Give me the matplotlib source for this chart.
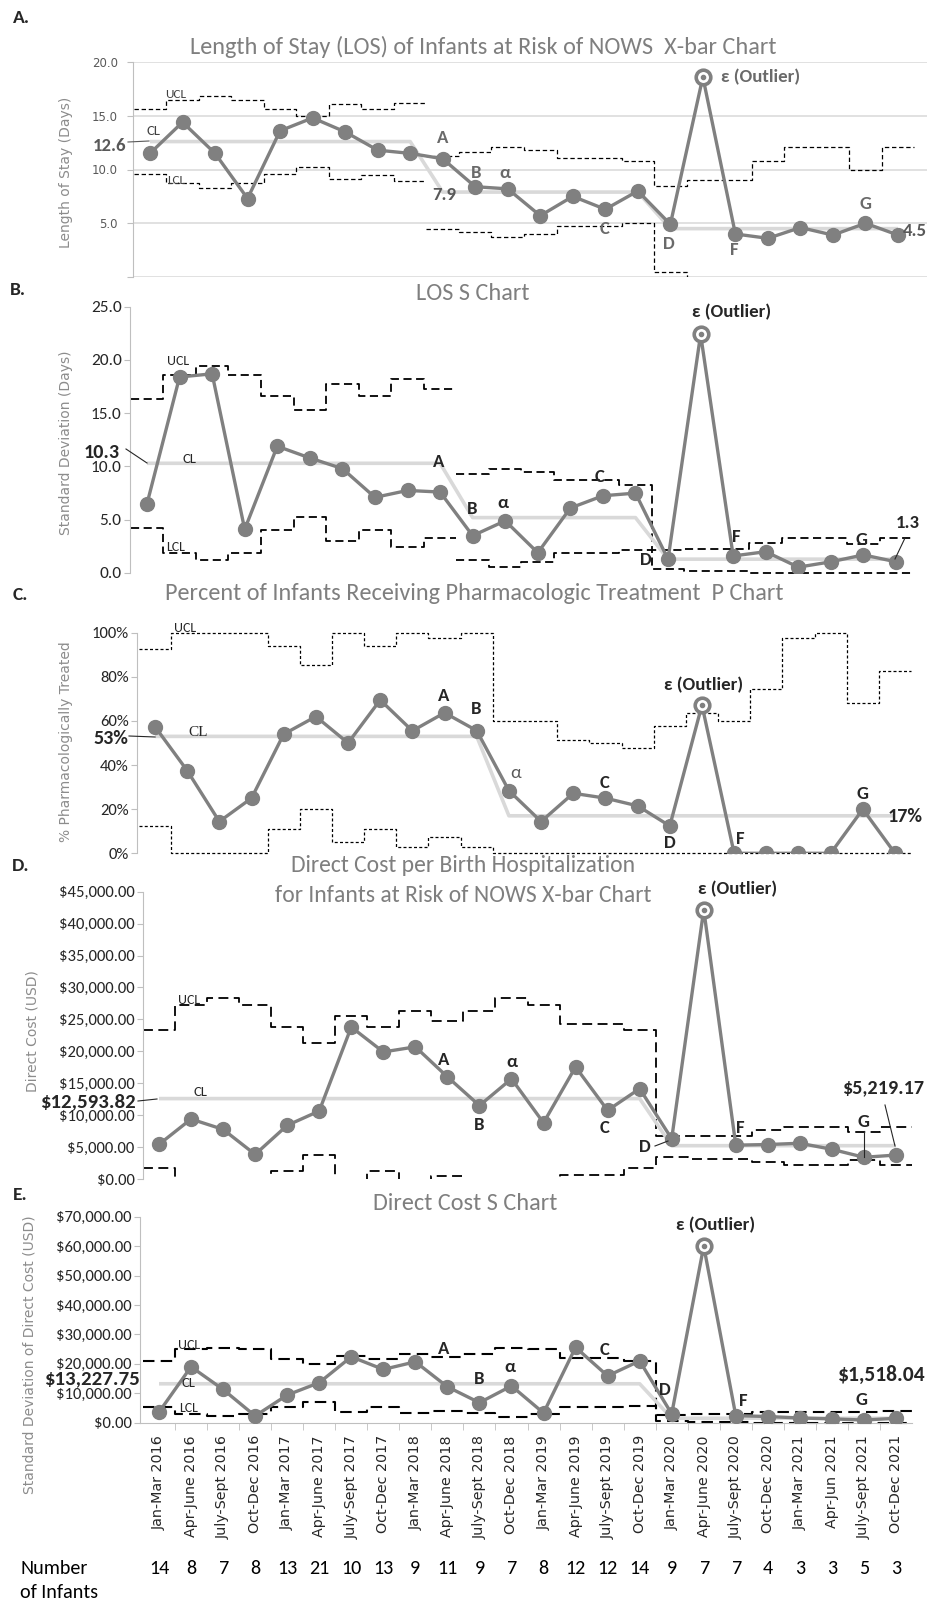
import numpy as np
import matplotlib
matplotlib.use("Agg")
import matplotlib.pyplot as plt
from matplotlib import font_manager as fm
from matplotlib.lines import Line2D
import matplotlib.transforms as mtransforms

# ---------------- data ----------------
periods = ["Jan-Mar 2016", "Apr-June 2016", "July-Sept 2016", "Oct-Dec 2016",
           "Jan-Mar 2017", "Apr-June 2017", "July-Sept 2017", "Oct-Dec 2017",
           "Jan-Mar 2018", "Apr-June 2018", "July-Sept 2018", "Oct-Dec 2018",
           "Jan-Mar 2019", "Apr-June 2019", "July-Sept 2019", "Oct-Dec 2019",
           "Jan-Mar 2020", "Apr-June 2020", "July-Sept 2020", "Oct-Dec 2020",
           "Jan-Mar 2021", "Apr-Jun 2021", "July-Sept 2021", "Oct-Dec 2021"]
n_infants = [14, 8, 7, 8, 13, 21, 10, 13, 9, 11, 9, 7, 8, 12, 12, 14, 9, 7, 7, 4, 3, 3, 5, 3]

# A. LOS X-bar (days)
los_mean = [11.5, 14.4, 11.5, 7.3, 13.6, 14.8, 13.5, 11.8, 11.5, 11.0, 8.4, 8.2,
            5.7, 7.5, 6.3, 8.0, 4.9, 18.6, 4.0, 3.6, 4.6, 3.9, 5.0, 3.9]
los_mean_cl = [12.6, 12.6, 12.6, 12.6, 12.6, 12.6, 12.6, 12.6, 12.6, 7.9, 7.9, 7.9,
               7.9, 7.9, 7.9, 7.9, 4.5, 4.5, 4.5, 4.5, 4.5, 4.5, 4.5, 4.5]
los_mean_ucl = [15.6, 16.5, 16.8, 16.5, 15.6, 15.0, 16.1, 15.6, 16.2, 11.3, 11.6, 12.1,
                11.8, 11.1, 11.1, 10.8, 8.5, 9.0, 9.0, 10.8, 12.1, 12.1, 10.0, 12.1]
los_mean_lcl = [9.6, 8.7, 8.3, 8.7, 9.6, 10.2, 9.1, 9.5, 8.9, 4.5, 4.2, 3.7,
                4.0, 4.7, 4.7, 5.0, 0.5, -0.3, -0.3, -1.8, -3.1, -3.1, -1.0, -3.1]

# B. LOS S chart (days)
los_sd = [6.5, 18.4, 18.7, 4.1, 11.9, 10.8, 9.8, 7.1, 7.75, 7.6, 3.5, 4.9,
          1.9, 6.1, 7.25, 7.5, 1.3, 22.4, 1.6, 2.0, 0.55, 1.05, 1.7, 1.05]
los_sd_cl = [10.3, 10.3, 10.3, 10.3, 10.3, 10.3, 10.3, 10.3, 10.3, 10.3, 5.2, 5.2,
             5.2, 5.2, 5.2, 5.2, 1.3, 1.3, 1.3, 1.3, 1.3, 1.3, 1.3, 1.3]
los_sd_ucl = [16.3, 18.6, 19.4, 18.6, 16.6, 15.3, 17.7, 16.6, 18.2, 17.3, 9.3, 9.8,
              9.5, 8.7, 8.7, 8.3, 2.15, 2.3, 2.3, 2.85, 3.25, 3.25, 2.7, 3.25]
los_sd_lcl = [4.2, 1.9, 1.2, 1.9, 4.0, 5.3, 3.0, 4.0, 2.4, 3.3, 1.25, 0.6,
              1.0, 1.9, 1.9, 2.2, 0.35, 0.2, 0.2, 0.0, 0.0, 0.0, 0.0, 0.0]

# C. P chart (% treated)
pct_treated = [57.4, 37.5, 14.4, 25.0, 54.0, 62.0, 50.0, 69.5, 55.5, 63.7, 55.6, 28.4,
               14.4, 27.2, 25.0, 21.5, 12.4, 67.2, 0.0, 0.0, 0.0, 0.0, 20.0, 0.0]
pct_cl = [53, 53, 53, 53, 53, 53, 53, 53, 53, 53, 53, 17,
          17, 17, 17, 17, 17, 17, 17, 17, 17, 17, 17, 17]
pct_ucl = [92.6, 100, 100, 100, 94.1, 85.3, 100, 94.1, 100, 97.7, 100, 60.0,
           60.0, 51.4, 50.2, 47.6, 57.7, 63.4, 60.0, 74.3, 97.4, 100, 68.3, 82.8]
pct_lcl = [12.4, 0, 0, 0, 10.9, 19.9, 5.3, 10.9, 2.7, 7.3, 2.7, 0,
           0, 0, 0, 0, 0, 0, 0, 0, 0, 0, 0, 0]

# D. Direct cost X-bar (USD)
cost_mean = [5420, 9390, 7770, 3850, 8400, 10650, 23800, 19900, 20700, 16000, 11500, 15700,
             8800, 17550, 10750, 14150, 6300, 42200, 5300, 5400, 5600, 4650, 3400, 3750]
cost_mean_cl = [12593.82] * 16 + [5219.17] * 8
cost_mean_ucl = [23400, 27200, 28300, 27200, 23800, 21300, 25500, 23800, 26300, 24800, 26300, 28300,
                 27200, 24300, 24300, 23400, 6700, 6800, 6800, 7600, 8200, 8200, 7400, 8200]
cost_mean_lcl = [1700, -2000, -3100, -2000, 1200, 3700, -300, 1200, -1100, 400, -1100, -3100,
                 -2000, 600, 600, 1700, 3500, 3200, 3200, 2700, 2200, 2200, 3000, 2200]

# E. Direct cost S chart (USD)
cost_sd = [3600, 19000, 11300, 2300, 9400, 13600, 22400, 18100, 20700, 12200, 6800, 12500,
           3300, 25600, 15900, 21000, 3000, 60000, 2400, 2100, 1600, 1300, 900, 1500]
cost_sd_cl = [13227.75] * 16 + [1518.04] * 8
cost_sd_ucl = [21000, 24900, 25400, 24900, 21500, 19900, 22600, 21500, 23500, 22400, 23500, 25400,
               24900, 22000, 22000, 21000, 2600, 3100, 3100, 3600, 3800, 3800, 3600, 3900]
cost_sd_lcl = [5400, 2900, 2300, 2900, 5200, 7100, 3700, 5200, 3200, 4100, 3200, 2000,
               2900, 5200, 5200, 5700, 500, 200, 200, 0, 0, 0, 0, 0]

OUTLIER = 17

# ---------------- fonts / colours ----------------
avail = {f.name for f in fm.fontManager.ttflist}
NARROW = next((f for f in ["Carlito", "Liberation Sans Narrow", "Roboto Condensed",
                           "Open Sans Condensed", "Liberation Sans"] if f in avail), "DejaVu Sans")
NF = [NARROW, "DejaVu Sans"]
WIDE = ["DejaVu Sans"]
GREY = "#808080"
CLC = "#d9d9d9"
DARK = "#262626"
TITLE_SIZE = 17.5

W, H = 928, 1602
fig = plt.figure(figsize=(W / 100, H / 100), dpi=100)


def make_axes(left, right, top, bottom, p1, p24):
    ax = fig.add_axes([left / W, 1 - bottom / H, (right - left) / W, (bottom - top) / H])
    unit = (p24 - p1) / 23.0
    ax.set_xlim(-(p1 - left) / unit, 23 + (right - p24) / unit)
    for s in ["top", "right", "bottom"]:
        ax.spines[s].set_visible(False)
    ax.spines["left"].set_color("#bfbfbf")
    ax.tick_params(axis="x", bottom=False, labelbottom=False)
    ax.tick_params(axis="y", color="#bfbfbf", length=4, pad=2, labelcolor=DARK)
    ax.patch.set_alpha(0)
    return ax


def step_xy(idx, vals):
    idx = np.asarray(idx, float)
    vals = np.asarray(vals, float)
    xs = np.column_stack([idx - 0.5, idx + 0.5]).ravel()
    ys = np.repeat(vals, 2)
    return xs, ys


def draw(ax, vals, cl, ucl, lcl, groups, dashes, lw, clip):
    x = np.arange(len(vals))
    for g in groups:
        for lim in (ucl, lcl):
            xs, ys = step_xy(x[g], np.asarray(lim, float)[g])
            ax.plot(xs, ys, color="black", lw=lw, dashes=dashes, clip_on=clip, zorder=1)
    ax.plot(x, cl, color=CLC, lw=2.6, zorder=2, solid_capstyle="butt")
    ax.plot(x, vals, color=GREY, lw=2.4, marker="o", ms=10, zorder=3)
    ax.plot(x[OUTLIER], vals[OUTLIER], "o", mfc="white", mec=GREY, mew=2.6, ms=10.5, zorder=4)
    ax.plot(x[OUTLIER], vals[OUTLIER], "o", color=GREY, ms=3, zorder=5)


def txt(px, py, s, size=13, weight="bold", color=DARK, ha="center", family=None, **kw):
    fig.text(px / W, 1 - py / H, s, ha=ha, va="center", fontsize=size, fontweight=weight,
             color=color, family=family or NF, **kw)


def leader(x1, y1, x2, y2, color="#262626"):
    fig.add_artist(Line2D([x1 / W, x2 / W], [1 - y1 / H, 1 - y2 / H],
                          transform=fig.transFigure, color=color, lw=0.8))


def ylab(s, px, py):
    fig.text(px / W, 1 - py / H, s, rotation=90, ha="center", va="center",
             fontsize=10, color="#8c8c8c", family=WIDE)


# ---------------- Panel A ----------------
axA = make_axes(133, 928, 62, 277, 150, 898)
axA.set_ylim(0, 20)
axA.set_yticks([0, 5, 10, 15, 20])
axA.set_yticklabels(["", "5.0", "10.0", "15.0", "20.0"], family=WIDE, fontsize=8.5, color="#595959")
axA.tick_params(axis="y", pad=7)
axA.grid(axis="y", color=CLC, lw=1.1)
axA.set_axisbelow(True)
draw(axA, los_mean, los_mean_cl, los_mean_ucl, los_mean_lcl,
     [slice(0, 9), slice(9, 24)], (3.5, 2.2), 0.9, True)

txt(21, 18, "A.", size=14)
txt(483, 47, "Length of Stay (LOS) of Infants at Risk of NOWS  X-bar Chart", size=TITLE_SIZE,
    weight="normal", color="#7f7f7f")
ylab("Length of Stay (Days)", 66, 172)
ac = "#6a6a6a"
txt(761, 77, "ε (Outlier)", size=13.5, color=ac)
for s, px, py in [("A", 443, 138), ("B", 476, 173), ("α", 505, 173), ("C", 605, 229),
                  ("D", 669, 244), ("F", 734, 250), ("G", 866, 204)]:
    txt(px, py, s, size=13.5, color=ac)
txt(110, 146, "12.6", size=13.5, color="#595959")
leader(128, 142, 149, 141, "#595959")
txt(444, 195, "7.9", size=13.5, color="#595959")
txt(927, 231, "4.5", size=13.5, color="#595959", ha="right")
txt(153, 131, "CL", size=10.5, weight="normal", color="#404040")
txt(176, 94, "UCL", size=9.5, weight="normal", color="#404040")
txt(176, 180, "LCL", size=9.5, weight="normal", color="#404040")

# ---------------- Panel B ----------------
axB = make_axes(130, 912, 306.7, 573, 147, 896)
axB.set_ylim(0, 25)
axB.set_yticks([0, 5, 10, 15, 20, 25])
axB.set_yticklabels(["0.0", "5.0", "10.0", "15.0", "20.0", "25.0"], family=NF, fontsize=12.5)
draw(axB, los_sd, los_sd_cl, los_sd_ucl, los_sd_lcl,
     [slice(0, 10), slice(10, 24)], (4.5, 2.5), 1.3, False)

txt(18, 290, "B.", size=14)
txt(473, 293, "LOS S Chart", size=TITLE_SIZE, weight="normal", color="#7f7f7f")
ylab("Standard Deviation (Days)", 66, 443)
txt(732, 312, "ε (Outlier)", size=13.5)
for s, px, py in [("A", 439, 462), ("B", 472, 509), ("α", 503, 503), ("C", 600, 477),
                  ("D", 646, 560), ("F", 736, 537), ("G", 862, 540)]:
    txt(px, py, s, size=13.5)
txt(102, 452, "10.3", size=14.5)
leader(126, 449, 147, 463)
txt(908, 523, "1.3", size=13.5)
leader(905, 538, 895, 559)
txt(189, 459, "CL", size=10.5, weight="normal")
txt(178, 361, "UCL", size=10, weight="normal")
txt(176, 547, "LCL", size=10, weight="normal")

# ---------------- Panel C ----------------
axC = make_axes(137, 912, 632.7, 853.3, 155, 895)
axC.set_ylim(0, 100)
axC.set_yticks([0, 20, 40, 60, 80, 100])
axC.set_yticklabels(["0%", "20%", "40%", "60%", "80%", "100%"], family=NF, fontsize=12)
draw(axC, pct_treated, pct_cl, pct_ucl, pct_lcl, [slice(0, 24)], (2.4, 1.8), 0.9, False)

txt(20, 595, "C.", size=14)
txt(474, 593, "Percent of Infants Receiving Pharmacologic Treatment  P Chart", size=TITLE_SIZE,
    weight="normal", color="#7f7f7f")
ylab("% Pharmacologically Treated", 66, 742)
txt(704, 685, "ε (Outlier)", size=13.5)
for s, px, py in [("A", 444, 696), ("B", 476, 709), ("C", 605, 783), ("D", 670, 843),
                  ("F", 740, 839), ("G", 863, 794)]:
    txt(px, py, s, size=13.5)
txt(516, 773, "α", size=13.5, weight="normal", color="#595959")
txt(111, 738, "53%", size=14.5)
leader(129, 736, 155, 737)
txt(905, 817, "17%", size=14.5)
txt(198, 733, "CL", size=11, weight="normal", family=["Liberation Serif", "DejaVu Serif"])
txt(185, 628, "UCL", size=10, weight="normal")

# ---------------- Panel D ----------------
axD = make_axes(143, 912, 891.7, 1179, 159, 896)
axD.set_ylim(0, 45000)
dt = np.arange(0, 45001, 5000)
axD.set_yticks(dt)
axD.set_yticklabels(["${:,.2f}".format(v) for v in dt], family=NF, fontsize=12)
draw(axD, cost_mean, cost_mean_cl, cost_mean_ucl, cost_mean_lcl, [slice(0, 24)], (5.5, 3.0), 1.3, True)

txt(21, 866, "D.", size=14)
txt(463, 865, "Direct Cost per Birth Hospitalization", size=17, weight="normal", color="#7f7f7f")
txt(463, 896, "for Infants at Risk of NOWS X-bar Chart", size=17, weight="normal", color="#7f7f7f")
ylab("Direct Cost (USD)", 33, 1031)
txt(738, 889, "ε (Outlier)", size=13.5)
for s, px, py in [("A", 444, 1060), ("α", 512, 1062), ("B", 479, 1125), ("C", 605, 1128),
                  ("D", 645, 1147), ("F", 740, 1128), ("G", 864, 1122)]:
    txt(px, py, s, size=13.5)
txt(88, 1102, "$12,593.82", size=15)
leader(138, 1101, 157, 1099)
txt(883, 1088, "$5,219.17", size=14.5)
leader(885, 1105, 895, 1146)
leader(864, 1131, 864, 1157)
leader(655, 1146, 668, 1141)
txt(200, 1092, "CL", size=10.5, weight="normal")
txt(189, 1000, "UCL", size=10, weight="normal")

# ---------------- Panel E ----------------
axE = make_axes(140, 912, 1216.7, 1422.7, 159, 896)
axE.set_ylim(0, 70000)
et = np.arange(0, 70001, 10000)
axE.set_yticks(et)
axE.set_yticklabels(["${:,.2f}".format(v) for v in et], family=NF, fontsize=12)
axE.spines["bottom"].set_visible(True)
axE.spines["bottom"].set_color("#bfbfbf")
xi = np.arange(len(periods))
axE.set_xticks(xi)
axE.set_xticklabels(periods, rotation=90, family=WIDE, fontsize=10.3, color=DARK)
axE.set_xticks(xi[:-1] + 0.5, minor=True)
axE.tick_params(axis="x", which="major", length=0, pad=9, labelbottom=True)
axE.tick_params(axis="x", which="minor", bottom=True, length=5, color="#bfbfbf")
draw(axE, cost_sd, cost_sd_cl, cost_sd_ucl, cost_sd_lcl, [slice(0, 24)], (5.5, 3.0), 1.5, False)

txt(20, 1195, "E.", size=14)
txt(465, 1203, "Direct Cost S Chart", size=TITLE_SIZE, weight="normal", color="#7f7f7f")
ylab("Standard Deviation of Direct Cost (USD)", 30, 1355)
txt(716, 1225, "ε (Outlier)", size=13.5)
for s, px, py in [("A", 444, 1349), ("B", 479, 1379), ("α", 510, 1367), ("C", 605, 1350),
                  ("D", 665, 1390), ("F", 743, 1401), ("G", 862, 1400)]:
    txt(px, py, s, size=13.5)
txt(140, 1379, "$13,227.75", size=15, ha="right")
txt(882, 1375, "$1,518.04", size=15.5)
txt(188, 1383, "CL", size=10.5, weight="normal")
txt(189, 1345, "UCL", size=10, weight="normal")
txt(189, 1408, "LCL", size=10, weight="normal")

# ---------------- Number of infants row ----------------
trans = mtransforms.blended_transform_factory(axE.transData, fig.transFigure)
for i, n in enumerate(n_infants):
    axE.text(i, 1 - 1568 / H, str(n), transform=trans, ha="center", va="center",
             fontsize=14.5, family=NF, color="black", clip_on=False)
txt(20, 1568, "Number", size=14.5, weight="normal", color="black", ha="left")
txt(20, 1593, "of Infants", size=14.5, weight="normal", color="black", ha="left")

fig.savefig("out.png", dpi=100)
